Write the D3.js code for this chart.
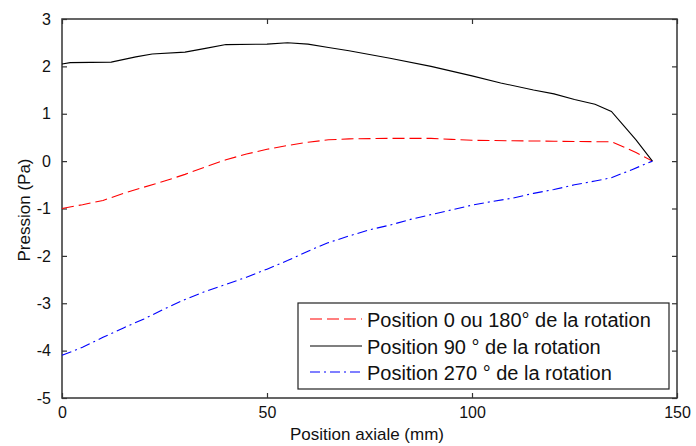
<!DOCTYPE html>
<html><head><meta charset="utf-8">
<script src="https://cdn.jsdelivr.net/npm/d3@7/dist/d3.min.js"></script>
<style>
body{margin:0;background:#fff;}
svg{display:block;font-family:"Liberation Sans",Arial,sans-serif;}
</style></head>
<body><svg id="c" width="696" height="446"></svg>
<script>
const xLabel = "Position axiale (mm)";
const yLabel = "Pression (Pa)";
const xTicks = [0, 50, 100, 150];
const yTicks = [-5, -4, -3, -2, -1, 0, 1, 2, 3];
const seriesNames = ["Position 0 ou 180° de la rotation", "Position 90 ° de la rotation", "Position 270 ° de la rotation"];

const redX = [0,5,10,15,20,25,30,35,40,45,50,55,60,65,70,80,90,95,100,110,120,130,134,137,140,144];
const redY = [-1.0,-0.92,-0.83,-0.68,-0.55,-0.42,-0.28,-0.12,0.03,0.15,0.25,0.33,0.4,0.45,0.47,0.48,0.48,0.46,0.44,0.43,0.42,0.41,0.41,0.3,0.18,0];

const blackX = [0,2,12,18,22,30,35,40,50,55,60,65,70,80,90,100,107,115,120,125,130,134,137,140,144];
const blackY = [2.05,2.08,2.09,2.2,2.26,2.3,2.38,2.46,2.47,2.5,2.47,2.4,2.33,2.17,2.0,1.8,1.65,1.5,1.42,1.3,1.2,1.05,0.75,0.45,0];

const blueX = [0,5,10,15,20,25,30,35,40,45,50,55,60,65,70,75,80,85,90,95,100,105,110,115,120,125,130,134,139,144];
const blueY = [-4.1,-3.93,-3.72,-3.52,-3.33,-3.12,-2.92,-2.75,-2.6,-2.45,-2.28,-2.1,-1.9,-1.72,-1.58,-1.45,-1.35,-1.23,-1.13,-1.03,-0.93,-0.85,-0.78,-0.68,-0.6,-0.5,-0.42,-0.35,-0.18,0];

const L = 62, R = 677, T = 19, B = 398;
const svg = d3.select("#c");
const x = d3.scaleLinear().domain([0,150]).range([L,R]);
const y = d3.scaleLinear().domain([-5,3]).range([B,T]);

const axisColor = "#333";
const tickLen = 5;

// box
svg.append("rect").attr("x",L).attr("y",T).attr("width",R-L).attr("height",B-T)
  .attr("fill","#fff").attr("stroke",axisColor).attr("stroke-width",1.5);

// axes using d3 axis (inner ticks)
const gx = svg.append("g").attr("transform",`translate(0,${B})`)
  .call(d3.axisBottom(x).tickValues(xTicks).tickSize(-tickLen).tickPadding(9).tickFormat(d3.format("d")));
const gxt = svg.append("g").attr("transform",`translate(0,${T})`)
  .call(d3.axisTop(x).tickValues(xTicks).tickSize(-tickLen).tickFormat(""));
const gy = svg.append("g").attr("transform",`translate(${L},0)`)
  .call(d3.axisLeft(y).tickValues(yTicks).tickSize(-tickLen).tickPadding(11).tickFormat(d3.format("d")));
const gyr = svg.append("g").attr("transform",`translate(${R},0)`)
  .call(d3.axisRight(y).tickValues(yTicks).tickSize(-tickLen).tickFormat(""));
[gx,gxt,gy,gyr].forEach(g=>{
  g.select(".domain").remove();
  g.selectAll(".tick line").attr("stroke",axisColor).attr("stroke-width",1.2);
  g.selectAll("text").attr("fill","#111").style("font-size","16px").style("font-family","'Liberation Sans',Arial,sans-serif");
});
gy.selectAll("text").text(d=>d<0?"-"+Math.abs(d):d);

const line = d3.line().x(d=>x(d[0])).y(d=>y(d[1]));
const series = [
  {xs: redX, ys: redY, color:"#ff0000", dash:"12,5"},
  {xs: blackX, ys: blackY, color:"#000000", dash:null},
  {xs: blueX, ys: blueY, color:"#0000ff", dash:"10,4,2,4"}
];
series.forEach(s=>{
  const pts = s.xs.map((v,i)=>[v,s.ys[i]]);
  svg.append("path").datum(pts).attr("d",line).attr("fill","none")
    .attr("stroke",s.color).attr("stroke-width",1.1)
    .attr("stroke-dasharray",s.dash);
});

// labels
svg.append("text").attr("x",290).attr("y",440).text(xLabel)
  .style("font-size","17px").attr("fill","#111");
svg.append("text").attr("transform",`translate(30,210) rotate(-90)`).attr("text-anchor","middle")
  .text(yLabel).style("font-size","17px").attr("fill","#111");

// legend
const lg = svg.append("g");
lg.append("rect").attr("x",298).attr("y",303).attr("width",371).attr("height",86)
  .attr("fill","#fff").attr("stroke","#222").attr("stroke-width",1.2);
const ly = [319, 346, 372];
series.forEach((s,i)=>{
  lg.append("line").attr("x1",310).attr("x2",362).attr("y1",ly[i]).attr("y2",ly[i])
    .attr("stroke",s.color).attr("stroke-width",1.1).attr("stroke-dasharray",s.dash);
  lg.append("text").attr("x",367).attr("y",ly[i]+8).text(seriesNames[i])
    .style("font-size","20px").attr("fill","#111");
});
</script></body></html>
